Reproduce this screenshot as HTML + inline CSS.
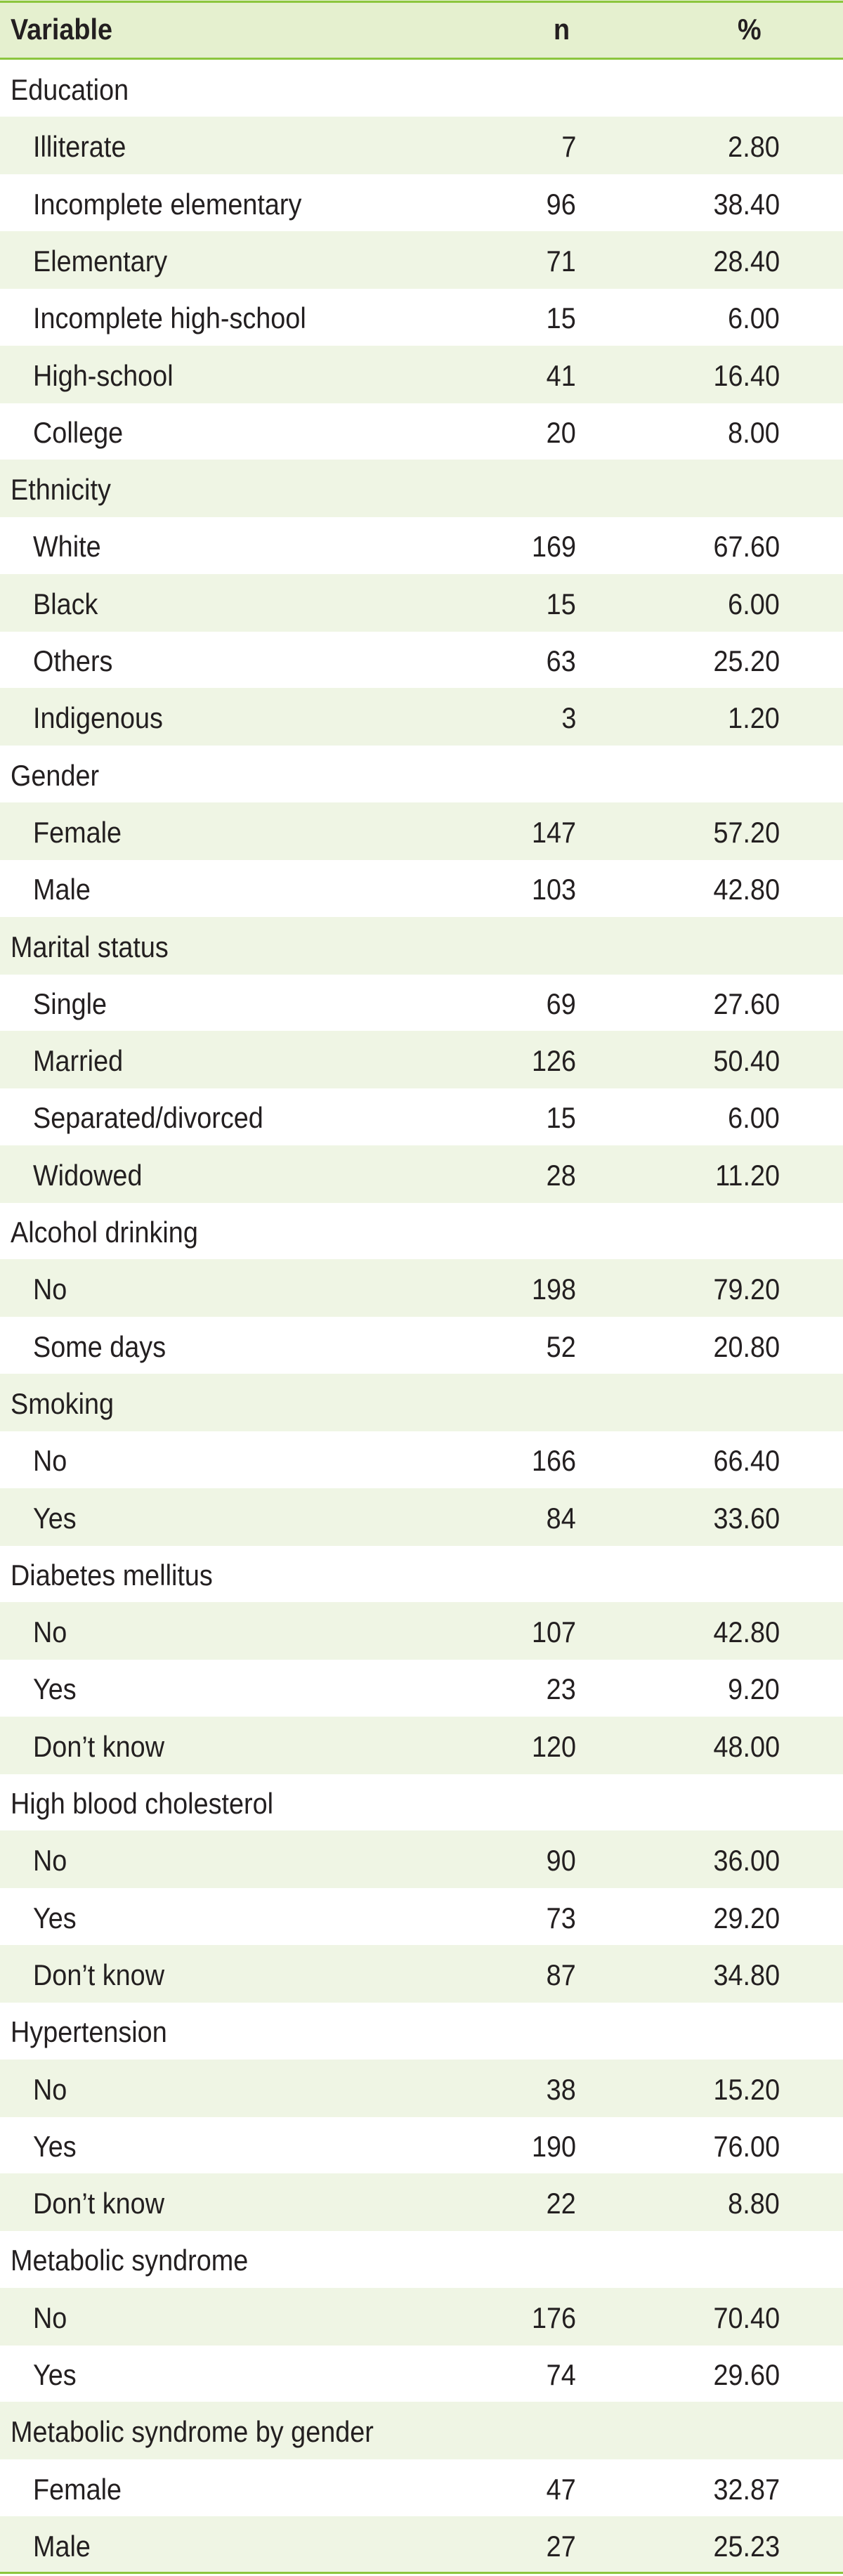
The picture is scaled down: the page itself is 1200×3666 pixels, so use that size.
<!DOCTYPE html>
<html><head><meta charset="utf-8"><style>
html,body{margin:0;padding:0;background:#fff;}
body{width:1200px;height:3666px;position:relative;overflow:hidden;font-family:"Liberation Sans",sans-serif;color:#231f20;}
.r{position:absolute;left:0;width:1200px;height:82px;}
.g{background:#eff5e4;}
.t{position:absolute;top:0;line-height:81px;padding-top:2px;font-size:42px;white-space:nowrap;}
.t span{display:inline-block;transform:scaleX(.9);}
.l span{transform-origin:left center;}
.n span,.p span{transform-origin:right center;}
.l{left:15px}.i{left:47px}
.n{right:380px;text-align:right}
.p{right:90px;text-align:right}
.line{position:absolute;left:0;width:1200px;height:3px;background:#8cc63e;}
.hd{position:absolute;top:0;line-height:84px;font-size:42px;font-weight:bold;white-space:nowrap;}
.hd span{display:inline-block;transform:scaleX(.9);transform-origin:left center;}
</style></head><body>
<div style="position:absolute;left:0;top:0;width:1200px;height:84px;background:#e5f0cf"></div>
<div class="line" style="top:1px"></div>
<div class="line" style="top:82px"></div>
<div class="hd" style="left:15px"><span>Variable</span></div>
<div class="hd" style="left:788px"><span>n</span></div>
<div class="hd" style="left:1050px"><span>%</span></div>

<div class="r" style="top:85px"><div class="t l"><span>Education</span></div></div>
<div class="r g" style="top:166px"><div class="t l i"><span>Illiterate</span></div><div class="t n"><span>7</span></div><div class="t p"><span>2.80</span></div></div>
<div class="r" style="top:248px"><div class="t l i"><span>Incomplete elementary</span></div><div class="t n"><span>96</span></div><div class="t p"><span>38.40</span></div></div>
<div class="r g" style="top:329px"><div class="t l i"><span>Elementary</span></div><div class="t n"><span>71</span></div><div class="t p"><span>28.40</span></div></div>
<div class="r" style="top:410px"><div class="t l i"><span>Incomplete high-school</span></div><div class="t n"><span>15</span></div><div class="t p"><span>6.00</span></div></div>
<div class="r g" style="top:492px"><div class="t l i"><span>High-school</span></div><div class="t n"><span>41</span></div><div class="t p"><span>16.40</span></div></div>
<div class="r" style="top:573px"><div class="t l i"><span>College</span></div><div class="t n"><span>20</span></div><div class="t p"><span>8.00</span></div></div>
<div class="r g" style="top:654px"><div class="t l"><span>Ethnicity</span></div></div>
<div class="r" style="top:735px"><div class="t l i"><span>White</span></div><div class="t n"><span>169</span></div><div class="t p"><span>67.60</span></div></div>
<div class="r g" style="top:817px"><div class="t l i"><span>Black</span></div><div class="t n"><span>15</span></div><div class="t p"><span>6.00</span></div></div>
<div class="r" style="top:898px"><div class="t l i"><span>Others</span></div><div class="t n"><span>63</span></div><div class="t p"><span>25.20</span></div></div>
<div class="r g" style="top:979px"><div class="t l i"><span>Indigenous</span></div><div class="t n"><span>3</span></div><div class="t p"><span>1.20</span></div></div>
<div class="r" style="top:1061px"><div class="t l"><span>Gender</span></div></div>
<div class="r g" style="top:1142px"><div class="t l i"><span>Female</span></div><div class="t n"><span>147</span></div><div class="t p"><span>57.20</span></div></div>
<div class="r" style="top:1223px"><div class="t l i"><span>Male</span></div><div class="t n"><span>103</span></div><div class="t p"><span>42.80</span></div></div>
<div class="r g" style="top:1305px"><div class="t l"><span>Marital status</span></div></div>
<div class="r" style="top:1386px"><div class="t l i"><span>Single</span></div><div class="t n"><span>69</span></div><div class="t p"><span>27.60</span></div></div>
<div class="r g" style="top:1467px"><div class="t l i"><span>Married</span></div><div class="t n"><span>126</span></div><div class="t p"><span>50.40</span></div></div>
<div class="r" style="top:1548px"><div class="t l i"><span>Separated/divorced</span></div><div class="t n"><span>15</span></div><div class="t p"><span>6.00</span></div></div>
<div class="r g" style="top:1630px"><div class="t l i"><span>Widowed</span></div><div class="t n"><span>28</span></div><div class="t p"><span>11.20</span></div></div>
<div class="r" style="top:1711px"><div class="t l"><span>Alcohol drinking</span></div></div>
<div class="r g" style="top:1792px"><div class="t l i"><span>No</span></div><div class="t n"><span>198</span></div><div class="t p"><span>79.20</span></div></div>
<div class="r" style="top:1874px"><div class="t l i"><span>Some days</span></div><div class="t n"><span>52</span></div><div class="t p"><span>20.80</span></div></div>
<div class="r g" style="top:1955px"><div class="t l"><span>Smoking</span></div></div>
<div class="r" style="top:2036px"><div class="t l i"><span>No</span></div><div class="t n"><span>166</span></div><div class="t p"><span>66.40</span></div></div>
<div class="r g" style="top:2118px"><div class="t l i"><span>Yes</span></div><div class="t n"><span>84</span></div><div class="t p"><span>33.60</span></div></div>
<div class="r" style="top:2199px"><div class="t l"><span>Diabetes mellitus</span></div></div>
<div class="r g" style="top:2280px"><div class="t l i"><span>No</span></div><div class="t n"><span>107</span></div><div class="t p"><span>42.80</span></div></div>
<div class="r" style="top:2361px"><div class="t l i"><span>Yes</span></div><div class="t n"><span>23</span></div><div class="t p"><span>9.20</span></div></div>
<div class="r g" style="top:2443px"><div class="t l i"><span>Don’t know</span></div><div class="t n"><span>120</span></div><div class="t p"><span>48.00</span></div></div>
<div class="r" style="top:2524px"><div class="t l"><span>High blood cholesterol</span></div></div>
<div class="r g" style="top:2605px"><div class="t l i"><span>No</span></div><div class="t n"><span>90</span></div><div class="t p"><span>36.00</span></div></div>
<div class="r" style="top:2687px"><div class="t l i"><span>Yes</span></div><div class="t n"><span>73</span></div><div class="t p"><span>29.20</span></div></div>
<div class="r g" style="top:2768px"><div class="t l i"><span>Don’t know</span></div><div class="t n"><span>87</span></div><div class="t p"><span>34.80</span></div></div>
<div class="r" style="top:2849px"><div class="t l"><span>Hypertension</span></div></div>
<div class="r g" style="top:2931px"><div class="t l i"><span>No</span></div><div class="t n"><span>38</span></div><div class="t p"><span>15.20</span></div></div>
<div class="r" style="top:3012px"><div class="t l i"><span>Yes</span></div><div class="t n"><span>190</span></div><div class="t p"><span>76.00</span></div></div>
<div class="r g" style="top:3093px"><div class="t l i"><span>Don’t know</span></div><div class="t n"><span>22</span></div><div class="t p"><span>8.80</span></div></div>
<div class="r" style="top:3174px"><div class="t l"><span>Metabolic syndrome</span></div></div>
<div class="r g" style="top:3256px"><div class="t l i"><span>No</span></div><div class="t n"><span>176</span></div><div class="t p"><span>70.40</span></div></div>
<div class="r" style="top:3337px"><div class="t l i"><span>Yes</span></div><div class="t n"><span>74</span></div><div class="t p"><span>29.60</span></div></div>
<div class="r g" style="top:3418px"><div class="t l"><span>Metabolic syndrome by gender</span></div></div>
<div class="r" style="top:3500px"><div class="t l i"><span>Female</span></div><div class="t n"><span>47</span></div><div class="t p"><span>32.87</span></div></div>
<div class="r g" style="top:3581px"><div class="t l i"><span>Male</span></div><div class="t n"><span>27</span></div><div class="t p"><span>25.23</span></div></div>
<div class="line" style="top:3660px"></div>
</body></html>
